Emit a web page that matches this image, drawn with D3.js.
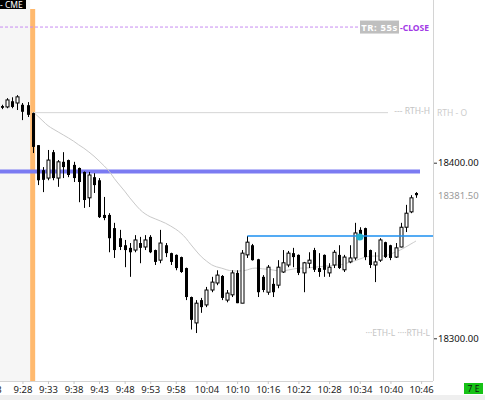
<!DOCTYPE html>
<html>
<head>
<meta charset="utf-8">
<script src="https://cdn.jsdelivr.net/npm/d3@7"></script>
<style>
  body { margin: 0; background: #fff; }
  svg { display: block; font-family: "Noto Sans", sans-serif; }
</style>
</head>
<body>
<script>
// chart size
var svgWidth = 485;
var svgHeight = 400;
var plotRight = 433;
var plotBottom = 381;

// one bar per row: open, high, low, close
var opens  = [18432.25,18431.75,18435,18434,18433,18432.75,18428.25,18410,18395.75,18391.25,
              18406,18391.25,18400.5,18401.5,18398.75,18397,18394.75,18380,18391.75,18390,
              18370.25,18370.25,18362.75,18357,18353,18351.5,18350.25,18354.25,18352,18357.75,
              18350.25,18344.5,18353,18348.5,18347.5,18346.25,18340,18323.5,18308.75,18321.75,
              18319,18327.5,18331.5,18335.5,18321.75,18324.75,18337.25,18320,18347.5,18353,
              18345,18335,18326.25,18331,18330.25,18337.75,18341.75,18348.5,18347.5,18337.25,
              18342.75,18350.25,18340,18347.5,18337.25,18341.75,18347.5,18339,18343.5,18345.75,
              18361.75,18362.75,18350.25,18341.75,18344.5,18354.75,18353,18346.25,18352,18363.25,
              18372,18382.75];
var highs  = [18433,18436.75,18437.25,18438.5,18434,18434.5,18428.5,18410,18397.5,18407.25,
              18407.25,18401.5,18406,18401.75,18400.5,18397.25,18395,18394.75,18394,18391.25,
              18380.5,18371.25,18365.75,18361.75,18356,18354.25,18358.75,18357.75,18358.75,18358.75,
              18350.5,18361.75,18354.25,18348.75,18347.75,18346.5,18340.25,18323.75,18321.75,18323,
              18329.25,18335,18338.75,18336,18327.5,18338.75,18338.75,18350.25,18358.25,18353.75,
              18345.25,18336,18341.75,18334.25,18344.5,18350.25,18349.75,18351.5,18347.75,18343.5,
              18349,18351.5,18348.5,18347.75,18342.75,18350.25,18353,18347.5,18353,18365.75,
              18363.25,18363,18350.5,18349,18357,18355,18353.25,18354.25,18365.75,18376,
              18381.5,18383.25];
var lows   = [18430.5,18431,18431,18430,18424.25,18426,18405.5,18387.25,18383.25,18390,
              18390,18386.25,18391.25,18391.75,18389,18377.5,18374.25,18374.75,18382.75,18368.5,
              18367.25,18349,18345.75,18350.25,18340.5,18335,18349,18342.75,18350.25,18348.5,
              18341.75,18342.75,18346.25,18341.75,18338.75,18337.25,18321.75,18305,18303,18314.5,
              18317.75,18326.25,18330.25,18321.75,18320.5,18323.5,18320,18320,18345.75,18344.25,
              18323.5,18326.25,18324.75,18323.5,18328.5,18337.25,18340.5,18340.5,18336,18326.25,
              18340,18337.75,18335,18335,18335,18340,18339.5,18337.75,18342.75,18344.5,
              18357.75,18344.5,18340,18332,18343.5,18345.75,18344.5,18345.75,18351.75,18360.5,
              18371.25,18380];
var closes = [18431.25,18435.75,18431.75,18437.5,18429,18427.25,18409,18390,18390.25,18401.5,
              18391.25,18400.5,18397.5,18393,18391.25,18389,18378.75,18393,18387.25,18369,
              18368.5,18357,18350.25,18352,18350.25,18349,18356,18351.5,18356,18349,
              18343.5,18354.25,18348.5,18343.5,18340,18337.75,18323.5,18310.5,18320,18317.75,
              18327.5,18332,18336,18323,18325.75,18337.25,18320,18348.5,18354.75,18344.5,
              18326.25,18327.5,18340.5,18326.25,18340.5,18343,18348.5,18346.25,18337.25,18343,
              18344.5,18339,18337.75,18339,18340.5,18349,18340,18346.25,18345.75,18360,
              18358.75,18346.25,18341.75,18343.5,18356,18346.25,18345.75,18351.5,18363.25,18371.25,
              18380,18381.5];

// session average line, starts at the open bar
var vwapStart = 6;
var vwap = [18428.9,18426.6,18423.75,18420.9,18419.2,18417.5,18415.8,18414.1,18412.35,18410.1,
            18408.4,18406.1,18403.8,18401,18398.1,18395.3,18390.7,18387.3,18383.9,18379.9,
            18376.5,18373.1,18370.8,18369.1,18368,18366.8,18365.6,18363.95,18362.2,18360,
            18357.1,18353.1,18349.7,18346.3,18344,18341.7,18340.6,18340,18338.9,18338.3,
            18338.3,18338.3,18338.9,18340,18340,18339.45,18339.45,18338.9,18338.3,18338.3,
            18338.9,18339.45,18340,18340,18340,18340.6,18340.6,18341.2,18341.2,18341.7,
            18341.7,18342.3,18343.4,18344,18345.15,18346.3,18346.85,18346.85,18346.85,18346.85,
            18348,18349.1,18350.3,18352,18353.7,18355.4];

// time axis
var tickIdx    = [-2, 4, 9, 14, 19, 24, 29, 34, 40, 46, 52, 58, 64, 70, 76, 82];
var tickLabels = ["9:23","9:28","9:33","9:38","9:43","9:48","9:53","9:58",
                  "10:04","10:10","10:16","10:22","10:28","10:34","10:40","10:46"];
var priceTicks = [18300, 18400];

// levels
var closeLevel = 18477.25;
var rthHigh = 18428.5;
var zoneLevel = 18395;
var breakLevel = 18358.25;
var breakFrom = 48;
var touchBar = 70;
var lowLevel = 18303;
var lastPrice = 18381.5;

var x = d3.scaleLinear().domain([0, 81]).range([2, 416]);
var y = d3.scaleLinear().domain([18300, 18400]).range([338.3, 162.7]);

var svg = d3.select("body")
  .append("svg")
  .attr("width", svgWidth)
  .attr("height", svgHeight);

// pre-market shade
svg.append("rect")
  .attr("x", 0).attr("y", 0)
  .attr("width", x(vwapStart) - 2.5).attr("height", plotBottom)
  .attr("fill", "#f6f6f6");

// session open band
svg.append("rect")
  .attr("x", x(vwapStart) - 2.5).attr("y", 9)
  .attr("width", 5).attr("height", plotBottom - 9)
  .attr("fill", "#ffb96e");

// bottom strip
svg.append("rect")
  .attr("x", 0).attr("y", 395)
  .attr("width", svgWidth).attr("height", 5)
  .attr("fill", "#efefef");

// plot border
svg.append("line")
  .attr("x1", plotRight + 0.5).attr("x2", plotRight + 0.5)
  .attr("y1", 0).attr("y2", plotBottom)
  .attr("stroke", "#d4d4d4");
svg.append("line")
  .attr("x1", 0).attr("x2", plotRight)
  .attr("y1", plotBottom + 0.5).attr("y2", plotBottom + 0.5)
  .attr("stroke", "#d4d4d4");

// close level (dashed purple)
svg.append("line")
  .attr("x1", 0).attr("x2", 360)
  .attr("y1", y(closeLevel)).attr("y2", y(closeLevel))
  .attr("stroke", "#c88cf2")
  .attr("stroke-width", 1)
  .attr("stroke-dasharray", "3,2");

svg.append("rect")
  .attr("x", 360).attr("y", y(closeLevel) - 6.5)
  .attr("width", 39).attr("height", 13)
  .attr("fill", "#bfbfbf");
svg.append("text")
  .attr("x", 379.5).attr("y", y(closeLevel) + 3.5)
  .attr("text-anchor", "middle")
  .attr("font-size", 9.5).attr("font-weight", "bold")
  .attr("fill", "#fff")
  .attr("letter-spacing", 0.6)
  .text("TR: 55s");
svg.append("text")
  .attr("x", 400).attr("y", y(closeLevel) + 3.5)
  .attr("font-size", 8.5).attr("font-weight", "bold")
  .attr("fill", "#a23ae6")
  .text("-CLOSE");

// RTH high
svg.append("line")
  .attr("x1", x(vwapStart)).attr("x2", 388)
  .attr("y1", y(rthHigh)).attr("y2", y(rthHigh))
  .attr("stroke", "#d6d6d6");
svg.append("text")
  .attr("x", 430).attr("y", y(rthHigh) + 1)
  .attr("text-anchor", "end")
  .attr("font-size", 8.5).attr("fill", "#c4c4c4")
  .text("--- RTH-H");

// zone line (thick blue)
svg.append("line")
  .attr("x1", 0).attr("x2", 420)
  .attr("y1", y(zoneLevel)).attr("y2", y(zoneLevel))
  .attr("stroke", "#7b7bf2")
  .attr("stroke-width", 4);

// session average
var avgLine = d3.line()
  .x(function(d, i) { return x(vwapStart + i); })
  .y(function(d) { return y(d); })
  .curve(d3.curveBasis);

svg.append("path")
  .datum(vwap)
  .attr("fill", "none")
  .attr("stroke", "#c9c9c9")
  .attr("stroke-width", 1)
  .attr("d", avgLine);

// candles
var bars = opens.map(function(o, i) {
  return { i: i, o: o, h: highs[i], l: lows[i], c: closes[i] };
});

var candle = svg.append("g").selectAll("g")
  .data(bars)
  .enter()
  .append("g");

candle.append("line")
  .attr("x1", function(d) { return Math.round(x(d.i)) + 0.5; })
  .attr("x2", function(d) { return Math.round(x(d.i)) + 0.5; })
  .attr("y1", function(d) { return y(d.h); })
  .attr("y2", function(d) { return y(d.l); })
  .attr("stroke", "#000")
  .attr("stroke-width", 1);

candle.append("rect")
  .attr("x", function(d) { return Math.round(x(d.i)) - 1; })
  .attr("y", function(d) { return y(Math.max(d.o, d.c)); })
  .attr("width", 3)
  .attr("height", function(d) { return Math.max(1, Math.abs(y(d.o) - y(d.c))); })
  .attr("fill", function(d) { return d.c >= d.o ? "#fff" : "#000"; })
  .attr("stroke", "#000")
  .attr("stroke-width", function(d) { return d.c >= d.o ? 1 : 0; });

// breakout level
svg.append("line")
  .attr("x1", x(breakFrom)).attr("x2", plotRight)
  .attr("y1", y(breakLevel)).attr("y2", y(breakLevel))
  .attr("stroke", "#1b8ff0")
  .attr("stroke-width", 1.6);

svg.append("circle")
  .attr("cx", x(touchBar)).attr("cy", y(breakLevel) + 1)
  .attr("r", 3.6)
  .attr("fill", "#22b2cf");

// low labels
svg.append("text")
  .attr("x", 430).attr("y", y(lowLevel) + 3)
  .attr("text-anchor", "end")
  .attr("font-size", 8.5).attr("fill", "#c4c4c4")
  .text("\u00b7\u00b7\u00b7ETH-L \u00b7\u00b7\u00b7\u00b7RTH-L");

// x axis
var xAxis = d3.axisBottom(x)
  .tickValues(tickIdx)
  .tickFormat(function(d, i) { return tickLabels[i]; })
  .tickSize(3)
  .tickPadding(2);

var gx = svg.append("g")
  .attr("transform", "translate(0," + plotBottom + ")")
  .call(xAxis);
gx.select(".domain").remove();
gx.selectAll("line").attr("stroke", "#c8c8c8");
gx.selectAll("text")
  .attr("font-size", 9.5)
  .attr("font-family", "Noto Sans, sans-serif")
  .attr("fill", "#222");

// price axis
var yAxis = d3.axisRight(y)
  .tickValues(priceTicks)
  .tickFormat(d3.format(".2f"))
  .tickSize(3)
  .tickPadding(1);

var gy = svg.append("g")
  .attr("transform", "translate(" + (plotRight + 1) + ",0)")
  .call(yAxis);
gy.select(".domain").remove();
gy.selectAll("line").attr("stroke", "#333");
gy.selectAll("text")
  .attr("font-size", 9.5)
  .attr("font-family", "Noto Sans, sans-serif")
  .attr("fill", "#111");

svg.append("text")
  .attr("x", plotRight + 5).attr("y", y(lastPrice) + 3.5)
  .attr("font-size", 9.5).attr("fill", "#9a9a9a")
  .text(d3.format(".2f")(lastPrice));

svg.append("text")
  .attr("x", plotRight + 4).attr("y", y(rthHigh) + 3.5)
  .attr("font-size", 8.5).attr("fill", "#cccccc")
  .text("RTH - O");

// top-left tag
svg.append("rect")
  .attr("x", 0).attr("y", 0)
  .attr("width", 26).attr("height", 9)
  .attr("fill", "#000");
svg.append("text")
  .attr("x", 0).attr("y", 7.5)
  .attr("font-size", 8.5).attr("fill", "#fff")
  .text("- CME");

// status box
svg.append("rect")
  .attr("x", 464).attr("y", 383)
  .attr("width", 19).attr("height", 11)
  .attr("fill", "#16c216");
svg.append("text")
  .attr("x", 473.5).attr("y", 392)
  .attr("text-anchor", "middle")
  .attr("font-size", 8.5).attr("fill", "#111")
  .text("7 E");
</script>
</body>
</html>
